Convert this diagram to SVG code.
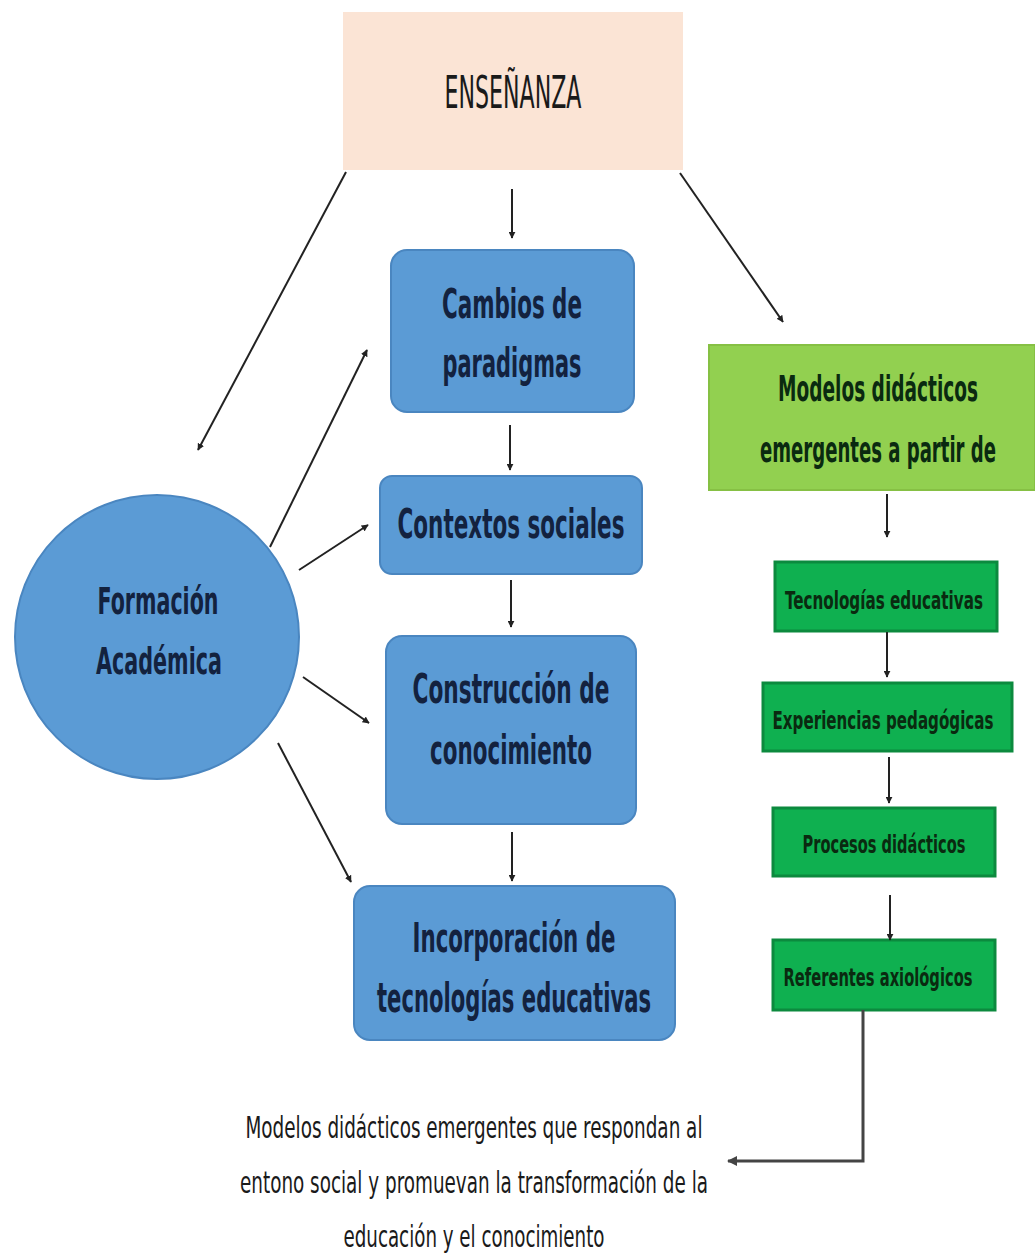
<svg xmlns="http://www.w3.org/2000/svg" width="1035" height="1254" viewBox="0 0 1035 1254">
<style>
.blue{fill:#5B9BD5;stroke:#4A86C0;stroke-width:2}
.lg{fill:#92D050;stroke:#86C044;stroke-width:2}
.dg{fill:#0FB050;stroke:#0C8A3E;stroke-width:3}
text{font-family:"Liberation Sans Narrow","DejaVu Sans Condensed","Liberation Sans",Arial,sans-serif;font-stretch:condensed;text-anchor:middle}
.tb{font-weight:bold;fill:#13223F}
.tg{font-weight:bold;fill:#0A2A10}
.tn{fill:#1A1A1A}
.c{stroke:#222;stroke-width:2;fill:none;marker-end:url(#ah)}
</style>
<defs>
<marker id="ah" viewBox="0 0 10 10" refX="9" refY="5" markerWidth="7" markerHeight="7" orient="auto" markerUnits="userSpaceOnUse">
<path d="M0,0 L10,5 L0,10 z" fill="#222"/>
</marker>
<marker id="ahb" viewBox="0 0 10 10" refX="9" refY="5" markerWidth="10" markerHeight="10" orient="auto" markerUnits="userSpaceOnUse">
<path d="M0,0 L10,5 L0,10 z" fill="#444"/>
</marker>
</defs>
<rect width="1035" height="1254" fill="#fff"/>

<g id="ensenanza">
<rect x="343" y="12" width="340" height="158" fill="#FBE4D5"/>
<text class="tn" x="513" y="108" font-size="44" textLength="137" lengthAdjust="spacingAndGlyphs">ENSEÑANZA</text>
</g>

<g id="formacion">
<circle cx="157" cy="637" r="142" class="blue"/>
<text class="tb" x="158" y="614" font-size="38" textLength="121" lengthAdjust="spacingAndGlyphs">Formación</text>
<text class="tb" x="159" y="674" font-size="38" textLength="126" lengthAdjust="spacingAndGlyphs">Académica</text>
</g>

<g id="cambios">
<rect x="391" y="250" width="243" height="162" rx="16" class="blue"/>
<text class="tb" x="512" y="318" font-size="40" textLength="140" lengthAdjust="spacingAndGlyphs">Cambios de</text>
<text class="tb" x="512" y="377" font-size="40" textLength="139" lengthAdjust="spacingAndGlyphs">paradigmas</text>
</g>

<g id="contextos">
<rect x="380" y="476" width="262" height="98" rx="12" class="blue"/>
<text class="tb" x="511" y="538" font-size="40" textLength="227" lengthAdjust="spacingAndGlyphs">Contextos sociales</text>
</g>

<g id="construccion">
<rect x="386" y="636" width="250" height="188" rx="16" class="blue"/>
<text class="tb" x="511" y="703" font-size="40" textLength="197" lengthAdjust="spacingAndGlyphs">Construcción de</text>
<text class="tb" x="511" y="764" font-size="40" textLength="162" lengthAdjust="spacingAndGlyphs">conocimiento</text>
</g>

<g id="incorporacion">
<rect x="354" y="886" width="321" height="154" rx="16" class="blue"/>
<text class="tb" x="514" y="952" font-size="40" textLength="203" lengthAdjust="spacingAndGlyphs">Incorporación de</text>
<text class="tb" x="514" y="1012" font-size="40" textLength="274" lengthAdjust="spacingAndGlyphs">tecnologías educativas</text>
</g>

<g id="modelos">
<rect x="709" y="345" width="326" height="145" class="lg"/>
<text class="tg" x="878" y="401" font-size="36" textLength="200" lengthAdjust="spacingAndGlyphs">Modelos didácticos</text>
<text class="tg" x="878" y="462" font-size="36" textLength="236" lengthAdjust="spacingAndGlyphs">emergentes a partir de</text>
</g>

<g id="tecnologias">
<rect x="775" y="562" width="222" height="69" class="dg"/>
<text class="tg" x="884" y="609" font-size="24" textLength="198" lengthAdjust="spacingAndGlyphs">Tecnologías educativas</text>
</g>

<g id="experiencias">
<rect x="763" y="683" width="249" height="68" class="dg"/>
<text class="tg" x="883" y="729" font-size="24" textLength="221" lengthAdjust="spacingAndGlyphs">Experiencias pedagógicas</text>
</g>

<g id="procesos">
<rect x="773" y="808" width="222" height="68" class="dg"/>
<text class="tg" x="884" y="853" font-size="24" textLength="163" lengthAdjust="spacingAndGlyphs">Procesos didácticos</text>
</g>

<g id="referentes">
<rect x="773" y="940" width="222" height="70" class="dg"/>
<text class="tg" x="878" y="986" font-size="24" textLength="189" lengthAdjust="spacingAndGlyphs">Referentes axiológicos</text>
</g>

<g id="resultado">
<text class="tn" x="474" y="1138" font-size="30" textLength="457" lengthAdjust="spacingAndGlyphs">Modelos didácticos emergentes que respondan al</text>
<text class="tn" x="474" y="1193" font-size="30" textLength="468" lengthAdjust="spacingAndGlyphs">entono social y promuevan la transformación de la</text>
<text class="tn" x="474" y="1247" font-size="30" textLength="261" lengthAdjust="spacingAndGlyphs">educación y el conocimiento</text>
</g>

<g id="connectors">
<line class="c" x1="512" y1="189" x2="512" y2="238"/>
<line class="c" x1="346" y1="172" x2="198" y2="450"/>
<line class="c" x1="680" y1="173" x2="783" y2="322"/>
<line class="c" x1="270" y1="547" x2="367" y2="350"/>
<line class="c" x1="299" y1="570" x2="368" y2="525"/>
<line class="c" x1="303" y1="677" x2="369" y2="723"/>
<line class="c" x1="278" y1="743" x2="351" y2="882"/>
<line class="c" x1="510" y1="425" x2="510" y2="470"/>
<line class="c" x1="511" y1="580" x2="511" y2="627"/>
<line class="c" x1="512" y1="832" x2="512" y2="881"/>
<line class="c" x1="887" y1="494" x2="887" y2="537"/>
<line class="c" x1="887" y1="632" x2="887" y2="677"/>
<line class="c" x1="889" y1="757" x2="889" y2="803"/>
<line class="c" x1="890" y1="895" x2="890" y2="940"/>
<polyline points="863,1010 863,1161 728,1161" fill="none" stroke="#444" stroke-width="3" marker-end="url(#ahb)"/>
</g>
</svg>
